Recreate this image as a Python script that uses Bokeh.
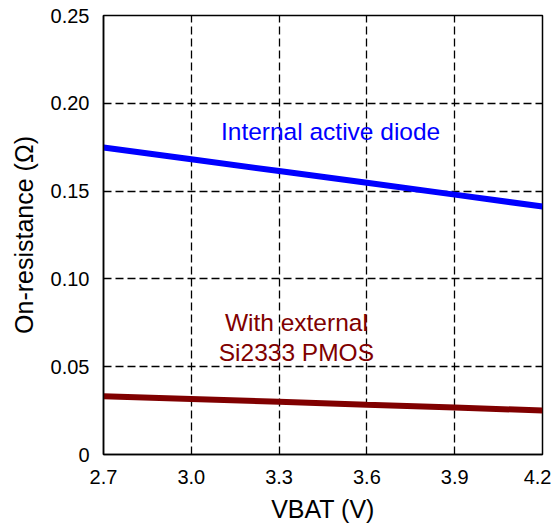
from bokeh.plotting import figure
from bokeh.embed import file_html
from bokeh.resources import INLINE
from bokeh.models import FixedTicker, ColumnDataSource
from bokeh.core.properties import value

vbat = [2.7, 3.0, 3.3, 3.6, 3.9, 4.2]
internal_diode = [0.1748, 0.1681, 0.1614, 0.1547, 0.1480, 0.1412]
external_pmos = [0.0332, 0.0316, 0.0300, 0.0283, 0.0267, 0.0251]

x_ticks = [2.7, 3.0, 3.3, 3.6, 3.9, 4.2]
x_tick_labels = ["2.7", "3.0", "3.3", "3.6", "3.9", "4.2"]
y_ticks = [0, 0.05, 0.10, 0.15, 0.20, 0.25]
y_tick_labels = ["0", "0.05", "0.10", "0.15", "0.20", "0.25"]

label_internal = ["Internal active diode"]
label_external = ["With external", "Si2333 PMOS"]

FONT = "Liberation Sans"

p = figure(width=551, height=529, output_backend="svg", toolbar_location=None,
           x_range=(2.7, 4.2), y_range=(0, 0.25),
           frame_width=439, frame_height=439,
           min_border_left=103, min_border_right=9, min_border_top=15, min_border_bottom=75)

p.outline_line_color = "black"
p.outline_line_width = 1.5
p.outline_line_alpha = 1.0
p.background_fill_color = "white"
p.border_fill_color = "white"

p.xaxis.ticker = FixedTicker(ticks=x_ticks)
p.yaxis.ticker = FixedTicker(ticks=y_ticks)
p.xaxis.major_label_overrides = {t: l for t, l in zip(x_ticks, x_tick_labels)}
p.yaxis.major_label_overrides = {t: l for t, l in zip(y_ticks, y_tick_labels)}

for ax in (p.xaxis, p.yaxis):
    ax.major_tick_line_color = None
    ax.minor_tick_line_color = None
    ax.axis_line_color = "black"
    ax.axis_line_width = 1.5
    ax.major_label_text_font = FONT
    ax.major_label_text_font_size = "20px"
    ax.major_label_text_color = "black"
    ax.axis_label_text_font = FONT
    ax.axis_label_text_font_size = "25px"
    ax.axis_label_text_font_style = "normal"
    ax.axis_label_text_color = "black"

p.xaxis.axis_label = "VBAT (V)"
p.yaxis.axis_label = "On-resistance (Ω)"
p.xaxis.major_label_standoff = 9
p.yaxis.major_label_standoff = 8
p.xaxis.axis_label_standoff = 8
p.yaxis.axis_label_standoff = 10

for g in (p.xgrid, p.ygrid):
    g.grid_line_color = "black"
    g.grid_line_dash = "8 4"
    g.grid_line_width = 1.3
    g.grid_line_alpha = 1.0

p.line(vbat, internal_diode, line_color="#0000FF", line_width=6)
p.line(vbat, external_pmos, line_color="#800000", line_width=6)

src1 = ColumnDataSource(dict(x=[3.476], y=[0.184], t=label_internal))
p.text(x="x", y="y", text="t", source=src1, text_font=value(FONT),
       text_font_size="24.5px", text_color="#0000FF", text_align="center", text_baseline="middle")

src2 = ColumnDataSource(dict(x=[3.359, 3.359], y=[0.0752, 0.0581], t=label_external))
p.text(x="x", y="y", text="t", source=src2, text_font=value(FONT),
       text_font_size="24.5px", text_color="#800000", text_align="center", text_baseline="middle")

open("out.html", "w").write(file_html(p, INLINE))
